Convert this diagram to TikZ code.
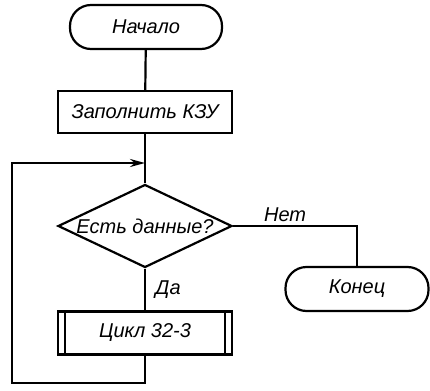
\documentclass[tikz,border=0pt]{standalone}
\usepackage{fontspec}
\setmainfont{Liberation Sans}
\usetikzlibrary{shapes.geometric}
\usetikzlibrary{arrows.meta}

\begin{document}
\begin{tikzpicture}[x=1pt,y=-1pt, line width=2.2pt,
  every node/.style={font=\itshape\fontsize{20}{22}\selectfont},
  term/.style={draw, rounded corners=21pt, minimum height=44pt, inner sep=0pt},
  box/.style={draw, minimum width=174pt, minimum height=42pt, inner sep=0pt},
  cond/.style={draw, diamond, aspect=2.1, minimum width=174pt, minimum height=83pt, inner sep=-3pt},
  flow/.style={-{Stealth[length=15pt,width=8pt]}}]
\useasboundingbox (0,0) rectangle (430,390);
\node[term, minimum width=152pt] (start) at (146,27) {Начало};
\node[box] (load) at (145,112) {Заполнить КЗУ};
\node[cond] (test) at (145,226) {Есть данные?};
\node[term, minimum width=143pt] (stop) at (357,289) {Конец};
\node[box, minimum height=43pt] (cycle) at (145,333) {Цикл 32-3};
\draw ([xshift=8pt]cycle.north west) -- ([xshift=8pt]cycle.south west);
\draw ([xshift=-8pt]cycle.north east) -- ([xshift=-8pt]cycle.south east);
\coordinate (join) at (145,163);
\coordinate (back) at (12,383);
\draw (start) -- (load);
\draw (load) -- (test);
\draw (test.east) -| node[pos=0.21, above] {Нет} (stop.north);
\draw (test) -- node[right=6pt] {Да} (cycle);
\draw[flow] (cycle.south) |- (back) |- (join);
\end{tikzpicture}
\end{document}
